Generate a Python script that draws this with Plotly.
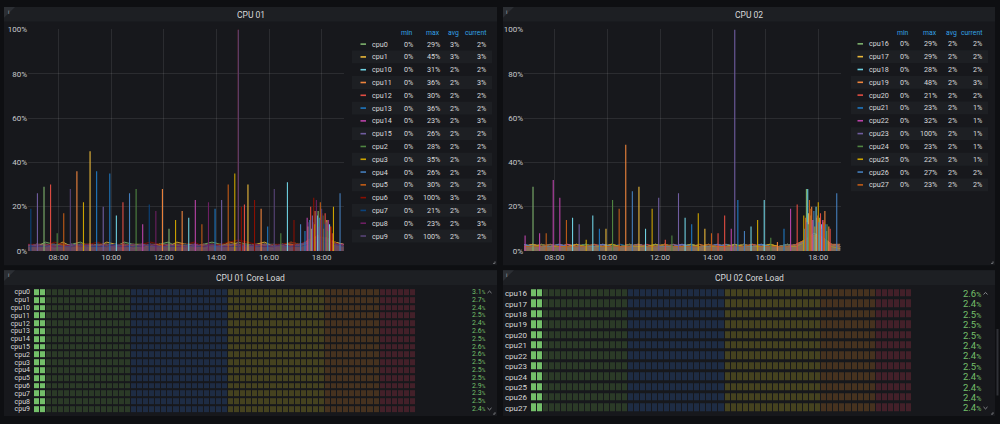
import plotly.graph_objects as go

W, H = 1000, 424
FONT = "Roboto, Inter, sans-serif"
DAY = "2024-01-01 "

# ------------------------------------------------------------------ data
CPU01_NAMES = ["cpu0", "cpu1", "cpu10", "cpu11", "cpu12", "cpu13", "cpu14", "cpu15",
               "cpu2", "cpu3", "cpu4", "cpu5", "cpu6", "cpu7", "cpu8", "cpu9"]
CPU02_NAMES = ["cpu16", "cpu17", "cpu18", "cpu19", "cpu20", "cpu21",
               "cpu22", "cpu23", "cpu24", "cpu25", "cpu26", "cpu27"]
PALETTE = ["#7EB26D", "#EAB839", "#6ED0E0", "#EF843C", "#E24D42", "#1F78C1", "#BA43A9", "#705DA0",
           "#508642", "#CCA300", "#447EBC", "#C15C17", "#890F02", "#0A437C", "#6D1F62", "#584477"]

BASE_TIMES = ["06:50", "07:10", "07:30", "07:50", "08:10", "08:30", "08:50", "09:10", "09:30", "09:50",
              "10:10", "10:30", "10:50", "11:10", "11:30", "11:50", "12:10", "12:30", "12:50", "13:10",
              "13:30", "13:50", "14:10", "14:30", "14:50", "15:10", "15:30", "15:50", "16:10", "16:30",
              "16:50", "17:10", "17:30", "17:50", "18:10", "18:30", "18:50"]

BASE_01 = [
    [3,2,4,3,2,3,4,2,3,3, 2,4,3,2,3,3,4,2,3,2, 3,4,3,2,4,3,2,3,3,2, 4,3,4,7,5,4,3],
    [2,3,3,2,4,2,3,3,2,4, 3,2,3,3,2,3,2,4,3,3, 2,3,2,4,3,2,3,4,2,3, 3,2,5,6,6,4,3],
    [2,2,3,1,2,3,2,2,3,2, 2,3,1,2,2,3,2,2,3,2, 1,2,3,2,2,3,2,2,1,3, 2,2,3,5,4,3,2],
    [3,2,2,3,2,2,3,2,2,3, 2,2,3,2,2,3,2,3,2,2, 3,2,2,3,2,2,3,2,2,3, 2,3,4,6,5,3,3],
    [2,3,2,2,3,2,2,3,2,2, 1,3,2,2,3,2,2,2,3,1, 2,3,2,2,3,2,2,3,2,2, 3,2,4,7,5,3,2],
    [2,2,3,2,2,3,2,1,3,2, 3,2,2,3,2,2,3,2,2,3, 2,2,3,2,2,3,2,2,3,2, 2,3,4,6,4,3,2],
    [3,2,2,3,2,2,2,3,2,2, 3,2,2,2,3,2,2,3,2,2, 3,2,2,3,2,2,2,3,2,2, 3,2,3,6,5,3,3],
    [2,3,2,2,3,2,3,2,2,2, 3,2,3,2,2,3,2,2,2,3, 2,3,2,2,3,2,2,3,2,3, 2,2,4,5,6,3,2],
    [2,2,3,2,3,2,2,3,2,3, 2,2,3,2,3,2,2,3,2,2, 3,2,3,2,2,2,3,2,3,2, 2,3,3,6,4,3,2],
    [3,2,2,3,2,3,2,2,3,2, 2,3,2,2,2,3,2,2,3,2, 2,3,2,3,2,3,2,2,2,3, 2,2,4,5,5,3,2],
    [2,3,2,2,2,3,2,3,2,2, 3,2,2,3,2,2,3,2,2,3, 2,2,2,3,2,2,3,2,3,2, 2,3,3,5,6,3,2],
    [2,2,3,2,3,2,2,2,3,2, 2,3,2,2,3,2,3,2,2,2, 3,2,3,2,3,2,2,3,2,2, 3,2,4,6,4,3,2],
    [3,3,2,4,3,2,3,3,4,2, 3,3,2,3,4,3,2,3,3,4, 2,3,3,4,5,4,3,2,3,3, 4,3,5,7,6,4,2],
    [2,2,2,3,2,2,3,2,2,2, 3,2,2,2,3,2,2,2,3,2, 2,3,2,2,2,3,2,2,2,3, 2,2,3,5,4,3,2],
    [3,2,3,2,2,3,2,3,2,3, 2,2,3,2,3,2,3,2,2,3, 2,3,2,2,3,2,3,2,2,3, 2,3,4,6,5,3,3],
    [2,3,2,3,2,2,3,2,3,2, 2,3,2,3,2,2,2,3,2,2, 3,2,2,3,3,2,2,3,2,2, 2,3,4,6,5,3,2],
]
BASE_02 = [
    [2,3,2,2,3,2,2,3,2,2, 3,2,2,3,2,2,3,2,2,3, 2,2,3,2,2,3,2,2,3,2, 2,3,5,7,6,3,2],
    [2,2,3,2,2,3,2,2,2,3, 2,2,3,2,2,2,3,2,2,3, 2,2,2,3,2,2,3,2,2,2, 3,2,4,6,5,3,2],
    [3,2,2,3,2,2,3,2,2,3, 2,2,2,3,2,3,2,2,3,2, 2,3,2,2,3,2,2,3,2,2, 3,2,5,8,6,3,2],
    [2,3,2,2,3,2,2,3,2,2, 3,2,3,2,2,3,2,3,2,2, 3,2,2,3,2,3,2,2,3,2, 2,3,5,7,6,3,3],
    [2,2,3,2,2,2,3,2,3,2, 2,2,3,2,3,2,2,2,3,2, 2,3,2,2,2,3,2,3,2,2, 2,3,4,6,5,3,2],
    [2,2,2,3,2,2,2,3,2,2, 2,3,2,2,2,3,2,2,2,3, 2,2,2,3,2,2,2,3,2,2, 2,2,3,6,5,2,1],
    [2,3,2,2,2,3,2,2,2,3, 2,2,2,3,2,2,2,2,3,2, 2,2,3,2,2,2,3,2,2,2, 3,2,3,6,5,2,1],
    [2,2,2,2,3,2,2,2,3,2, 2,2,2,3,2,2,2,3,2,2, 2,2,3,2,2,2,2,3,2,2, 2,2,4,6,5,2,1],
    [2,2,3,2,2,2,2,3,2,2, 2,2,3,2,2,2,3,2,2,2, 2,3,2,2,2,3,2,2,2,2, 3,2,3,5,4,2,1],
    [2,3,2,2,2,2,3,2,2,2, 3,2,2,2,2,3,2,2,2,3, 2,2,2,2,3,2,2,2,3,2, 2,2,4,6,5,2,1],
    [3,2,2,2,3,2,2,2,2,3, 2,2,2,3,2,2,2,2,3,2, 2,2,3,2,2,2,2,3,2,2, 2,3,4,6,5,3,2],
    [2,2,2,3,2,2,2,2,3,2, 2,2,2,3,2,2,3,2,2,2, 2,3,2,2,2,2,3,2,2,2, 2,3,5,7,6,3,2],
]

SPIKE01_TIMES = ["06:57","07:12","07:27","07:42","07:57","08:12","08:27","08:42","08:57","09:12",
                 "09:27","09:42","09:57","10:12","10:27","10:42","10:57","11:12","11:27","11:42",
                 "11:57","12:12","12:27","12:42","12:57","13:12","13:27","13:42","13:57","14:12",
                 "14:27","14:42","14:50","14:50","14:57","15:04","15:12","15:27","15:42","15:57",
                 "16:12","16:27","16:42","16:57","17:12","17:27","17:35","17:42","17:48","17:52",
                 "17:57","18:03","18:08","18:12","18:18","18:27","18:42",
                 "17:31","17:39","17:45","17:55","18:00","18:06","18:15","18:22",
                 "17:22","17:29","17:33","17:37","17:41","17:44","17:50","17:54","17:59","18:01",
                 "18:05","18:10","18:14","18:20","18:24"]
SPIKE01_CPUS = ["cpu7","cpu15","cpu0","cpu12","cpu2","cpu5","cpu9","cpu11","cpu3","cpu1",
                "cpu13","cpu15","cpu13","cpu10","cpu12","cpu4","cpu2","cpu14","cpu7","cpu8",
                "cpu11","cpu0","cpu3","cpu11","cpu10","cpu14","cpu5","cpu8","cpu13","cpu15",
                "cpu5","cpu3","cpu6","cpu9","cpu6","cpu12","cpu1","cpu6","cpu11","cpu13",
                "cpu9","cpu2","cpu10","cpu6","cpu4","cpu14","cpu12","cpu6","cpu8","cpu0",
                "cpu5","cpu2","cpu12","cpu1","cpu10","cpu3","cpu4",
                "cpu9","cpu15","cpu11","cpu13","cpu9","cpu7","cpu14","cpu6",
                "cpu13","cpu1","cpu4","cpu0","cpu14","cpu3","cpu10","cpu15","cpu8","cpu6",
                "cpu11","cpu9","cpu2","cpu5","cpu12"]
SPIKE01_VALUES = [19,26,29,30,8,17,28,36,22,45, 36,20,35,16,22,26,28,12,21,18,
                  28,10,14,18,15,23,12,22,19,23, 30,35,100,100,20,21,30,23,19,11,
                  28,8,31,14,12,15,20,24,23,18, 22,16,17,14,12,20,26,
                  13,16,18,15,19,12,14,11,
                  9,11,14,10,13,12,16,11,14,17, 10,13,9,11,8]

SPIKE02_TIMES = ["06:53","07:11","07:26","07:41","07:57","08:12","08:27","08:41","08:56","09:12",
                 "09:27","09:42","09:57","10:12","10:27","10:42","10:57","11:12","11:27","11:42",
                 "11:57","12:12","12:27","12:42","12:57","13:12","13:27","13:42","13:57","14:12",
                 "14:27","14:42","14:50","14:57","15:12","15:27","15:42","15:57","16:12","16:27",
                 "16:42","16:57","17:12","17:27","17:33","17:36","17:40","17:45","17:50","17:55",
                 "18:00","18:05","18:10","18:15","18:20","18:27","18:42",
                 "17:31","17:38","17:43","17:48","17:58","18:03","18:12","18:17",
                 "17:29","17:34","17:37","17:42","17:46","17:52","17:57","18:01","18:07","18:09",
                 "18:13","18:19","18:24"]
SPIKE02_CPUS = ["cpu22","cpu16","cpu22","cpu27","cpu22","cpu22","cpu27","cpu18","cpu23","cpu25",
                "cpu18","cpu21","cpu17","cpu24","cpu27","cpu19","cpu26","cpu17","cpu18","cpu25",
                "cpu23","cpu20","cpu24","cpu23","cpu18","cpu21","cpu25","cpu17","cpu27","cpu20",
                "cpu20","cpu22","cpu23","cpu21","cpu26","cpu18","cpu25","cpu18","cpu24","cpu19",
                "cpu21","cpu22","cpu20","cpu25","cpu16","cpu18","cpu27","cpu19","cpu26","cpu18",
                "cpu25","cpu20","cpu22","cpu19","cpu24","cpu20","cpu26",
                "cpu27","cpu17","cpu27","cpu19","cpu27","cpu16","cpu27","cpu21",
                "cpu21","cpu23","cpu24","cpu16","cpu22","cpu25","cpu17","cpu26","cpu18","cpu23",
                "cpu27","cpu16","cpu19"]
SPIKE02_VALUES = [7,29,8,8,32,24,14,15,12,5, 16,10,10,23,19,48,27,29,10,19,
                  24,5,7,26,15,12,17,10,8,8, 16,10,100,23,9,11,14,23,6,4,
                  10,19,21,16,28,28,23,20,18,20, 22,17,14,18,12,10,26,
                  15,17,19,14,16,15,13,12,
                  10,13,12,16,14,11,15,13,12,10, 14,9,11]

LEG01_MIN = [0, 0, 0, 0, 0, 0, 0, 0, 0, 0, 0, 0, 0, 0, 0, 0]
LEG01_MAX = [29, 45, 31, 36, 30, 36, 23, 26, 28, 35, 26, 30, 100, 21, 23, 100]
LEG01_AVG = [3, 3, 2, 2, 2, 2, 2, 2, 2, 2, 2, 2, 3, 2, 2, 2]
LEG01_CUR = [2, 3, 2, 3, 2, 2, 3, 2, 2, 2, 2, 2, 2, 2, 3, 2]
LEG02_MIN = [0, 0, 0, 0, 0, 0, 0, 0, 0, 0, 0, 0]
LEG02_MAX = [29, 29, 28, 48, 21, 23, 32, 100, 23, 22, 27, 23]
LEG02_AVG = [2, 2, 2, 2, 2, 2, 2, 2, 2, 2, 2, 2]
LEG02_CUR = [2, 2, 2, 3, 2, 1, 1, 1, 1, 1, 2, 2]

GAUGE01 = [3.1, 2.7, 2.4, 2.5, 2.4, 2.6, 2.5, 2.6, 2.6, 2.5, 2.5, 2.5, 2.9, 2.3, 2.5, 2.4]
GAUGE02 = [2.6, 2.4, 2.5, 2.5, 2.5, 2.4, 2.4, 2.5, 2.4, 2.4, 2.4, 2.4]
THRESHOLDS = [0, 25, 50, 75, 90]
N_CELLS = 63

for row in BASE_01 + BASE_02:
    assert len(row) == len(BASE_TIMES)
assert len(SPIKE01_TIMES) == len(SPIKE01_CPUS) == len(SPIKE01_VALUES)
assert len(SPIKE02_TIMES) == len(SPIKE02_CPUS) == len(SPIKE02_VALUES)

# ------------------------------------------------------------------ style
PAGE_BG = "#0e0f12"
PANEL_BG = "#17181c"
HEADER_BG = "#1d1f23"
STRIPE = "#1d1f23"
TEXT = "#d8d9da"
AXIS_TEXT = "#c7c9cc"
HEAD_BLUE = "#33a2e5"
GRID = "rgba(255,255,255,0.09)"
GAUGE_GREEN = "#73bf69"
DIM = ["#2b3a27", "#1e2c44", "#45421f", "#46321f", "#432029"]
LIT = ["#73bf69", "#5794f2", "#fade2a", "#ff9830", "#f2495c"]


def px(x):
    return x / W


def py(y):
    return 1 - y / H


def rgba(h, a):
    h = h.lstrip("#")
    return "rgba(%d,%d,%d,%s)" % (int(h[0:2], 16), int(h[2:4], 16), int(h[4:6], 16), a)


fig = go.Figure()
shapes = []
annotations = []


def rect(x0, y0, x1, y1, color, layer="below"):
    shapes.append(dict(type="rect", xref="paper", yref="paper", x0=px(x0), x1=px(x1),
                       y0=py(y1), y1=py(y0), fillcolor=color, line=dict(width=0), layer=layer))


def line(x0, y0, x1, y1, color, width=1):
    shapes.append(dict(type="line", xref="paper", yref="paper", x0=px(x0), x1=px(x1),
                       y0=py(y0), y1=py(y1), line=dict(color=color, width=width), layer="above"))


def path(points, color, width=1, fill=None):
    d = "M " + " L ".join("%f,%f" % (px(a), py(b)) for a, b in points)
    if fill:
        d += " Z"
    shapes.append(dict(type="path", xref="paper", yref="paper", path=d,
                       line=dict(color=color, width=width if not fill else 0),
                       fillcolor=fill if fill else "rgba(0,0,0,0)", layer="above"))


def text(x, y, s, size=8, color=TEXT, xanchor="left"):
    annotations.append(dict(x=px(x), y=py(y), xref="paper", yref="paper", text=s, showarrow=False,
                            font=dict(size=size, color=color, family=FONT), xanchor=xanchor,
                            yanchor="middle", borderpad=0))


# ------------------------------------------------------------------ panels
PANELS = [(4, 3, 497, 267, "CPU 01"), (503, 3, 995, 267, "CPU 02"),
          (4, 272, 497, 421, "CPU 01 Core Load"), (503, 272, 995, 421, "CPU 02 Core Load")]
for x0, y0, x1, y1, title in PANELS:
    rect(x0, y0, x1, y1, PANEL_BG)
    rect(x0, y0, x1, y0 + 15, HEADER_BG)
    text((x0 + x1) / 2, y0 + 8, title, size=8.5, color=TEXT, xanchor="center")
    path([(x0, y0), (x0 + 11, y0), (x0, y0 + 11)], "#2c2f34", fill="#2c2f34")
    text(x0 + 2.5, y0 + 4.5, "i", size=6, color="#a0a2a6")
    path([(x1 - 4, y1 - 2), (x1 - 2, y1 - 2), (x1 - 2, y1 - 4)], "#6c6e72", width=1)

# ------------------------------------------------------------------ time series
def add_timeseries(names, base, sp_t, sp_c, sp_v, xa, ya):
    xs_base = [DAY + t for t in BASE_TIMES]
    for i, name in enumerate(names):
        c = PALETTE[i]
        fig.add_trace(go.Scatter(x=xs_base, y=base[i], mode="lines", line=dict(color=c, width=0.8),
                                 fill="tozeroy", fillcolor=rgba(c, 0.2), xaxis=xa, yaxis=ya,
                                 hoverinfo="skip", showlegend=False))
    for i, name in enumerate(names):
        c = PALETTE[i]
        xs, ys = [], []
        for t, cc, v in zip(sp_t, sp_c, sp_v):
            if cc == name:
                xs += [DAY + t, DAY + t, None]
                ys += [0, v, None]
        if xs:
            fig.add_trace(go.Scatter(x=xs, y=ys, mode="lines", line=dict(color=c, width=1.1),
                                     xaxis=xa, yaxis=ya, hoverinfo="skip", showlegend=False,
                                     connectgaps=False))


add_timeseries(CPU01_NAMES, BASE_01, SPIKE01_TIMES, SPIKE01_CPUS, SPIKE01_VALUES, "x", "y")
add_timeseries(CPU02_NAMES, BASE_02, SPIKE02_TIMES, SPIKE02_CPUS, SPIKE02_VALUES, "x2", "y2")

# ------------------------------------------------------------------ legends
def legend_table(names, mins, maxs, avgs, curs, y0, pitch, stripe_x, mark_x, name_x, cols):
    for col, head in zip(cols, ("min", "max", "avg", "current")):
        text(col, 29.5, head, size=6.8, color=HEAD_BLUE, xanchor="right")
    for i, name in enumerate(names):
        y = y0 + i * pitch
        if i % 2 == 1:
            rect(stripe_x[0], y - pitch / 2, stripe_x[1], y + pitch / 2, STRIPE)
        line(mark_x, y, mark_x + 5.5, y, PALETTE[i], width=1.6)
        text(name_x, y, name, size=7.2, color=TEXT)
        for col, vals in zip(cols, (mins, maxs, avgs, curs)):
            text(col, y, "%d%%" % vals[i], size=7.2, color=TEXT, xanchor="right")


legend_table(CPU01_NAMES, LEG01_MIN, LEG01_MAX, LEG01_AVG, LEG01_CUR, 41.0, 13.07,
             (352, 492), 360.5, 371, (413.5, 441, 459.5, 486.5))
legend_table(CPU02_NAMES, LEG02_MIN, LEG02_MAX, LEG02_AVG, LEG02_CUR, 40.7, 13.1,
             (851, 988), 857.5, 868, (910, 937.5, 957.5, 982.5))

# ------------------------------------------------------------------ bar gauges
def gauge_z(values):
    step = 100.0 / N_CELLS
    z = []
    for v in values:
        row = []
        for k in range(N_CELLS):
            start = k * step
            zone = max(j for j, t in enumerate(THRESHOLDS) if start >= t - 1e-9)
            row.append(zone + (5 if v > start else 0))
        z.append(row)
    return z


colors10 = DIM + LIT
cscale = []
for k, c in enumerate(colors10):
    cscale.append([k / 10, c])
    cscale.append([(k + 1) / 10, c])

fig.add_trace(go.Heatmap(z=gauge_z(GAUGE01), x=list(range(N_CELLS)), y=CPU01_NAMES,
                         colorscale=cscale, zmin=-0.5, zmax=9.5, showscale=False,
                         xgap=1, ygap=2, xaxis="x3", yaxis="y3", hoverinfo="skip"))
fig.add_trace(go.Heatmap(z=gauge_z(GAUGE02), x=list(range(N_CELLS)), y=CPU02_NAMES,
                         colorscale=cscale, zmin=-0.5, zmax=9.5, showscale=False,
                         xgap=1, ygap=3, xaxis="x4", yaxis="y4", hoverinfo="skip"))

for i, v in enumerate(GAUGE01):
    y = 294.3 + i * 7.96
    text(486.5, y, "%.1f<span style='font-size:5px'>%%</span>" % v, size=7, color=GAUGE_GREEN,
         xanchor="right")
for i, v in enumerate(GAUGE02):
    y = 295.7 + i * 10.64
    text(982, y, "%.1f<span style='font-size:7px'>%%</span>" % v, size=9.5, color=GAUGE_GREEN,
         xanchor="right")

# scroll chevrons
for cx, ytop, ybot in ((489.5, 294.3, 413.7), (985.5, 295.7, 412.7)):
    path([(cx - 2, ytop + 1), (cx, ytop - 1), (cx + 2, ytop + 1)], "#8a8c90", width=1)
    path([(cx - 2, ybot - 1), (cx, ybot + 1), (cx + 2, ybot - 1)], "#8a8c90", width=1)
rect(996.5, 332, 998.5, 400, "#2e3035", layer="above")

# ------------------------------------------------------------------ axes
tick_font = dict(size=8, color=AXIS_TEXT, family=FONT)
xr = [DAY + "06:50:30", DAY + "18:51:00"]
common_x = dict(type="date", range=xr, tickformat="%H:%M", dtick=7200000, tick0=DAY + "08:00",
                showgrid=True, gridcolor=GRID, gridwidth=1, zeroline=False, showline=False,
                ticks="", tickfont=tick_font, fixedrange=True)
common_y = dict(range=[0, 100], dtick=20, ticksuffix="%", showgrid=True, gridcolor=GRID,
                zeroline=False, showline=False, ticks="", tickfont=tick_font, fixedrange=True)
ydom = [py(252.3), py(26)]


def gauge_y(names, size):
    return dict(type="category", autorange="reversed", showgrid=False, zeroline=False,
                showline=False, ticks="", tickmode="array", tickvals=names, ticktext=names,
                tickfont=dict(size=size, color=TEXT, family=FONT), ticklabelstandoff=3)


gauge_x = dict(visible=False, range=[-0.5, N_CELLS - 0.5], fixedrange=True)

fig.update_layout(
    width=W, height=H, margin=dict(l=0, r=0, t=0, b=0),
    paper_bgcolor=PAGE_BG, plot_bgcolor="rgba(0,0,0,0)",
    font=dict(family=FONT, color=TEXT),
    showlegend=False,
    xaxis=dict(domain=[px(28), px(344)], anchor="y", **common_x),
    yaxis=dict(domain=ydom, anchor="x", **common_y),
    xaxis2=dict(domain=[px(524), px(840.7)], anchor="y2", **common_x),
    yaxis2=dict(domain=ydom, anchor="x2", **common_y),
    xaxis3=dict(domain=[px(34), px(416)], anchor="y3", **gauge_x),
    yaxis3=dict(domain=[py(417.7), py(290.3)], anchor="x3", **gauge_y(CPU01_NAMES, 7)),
    xaxis4=dict(domain=[px(531), px(912)], anchor="y4", **gauge_x),
    yaxis4=dict(domain=[py(418.0), py(290.4)], anchor="x4", **gauge_y(CPU02_NAMES, 8)),
    shapes=shapes, annotations=annotations,
)

fig.write_html("out.html")
